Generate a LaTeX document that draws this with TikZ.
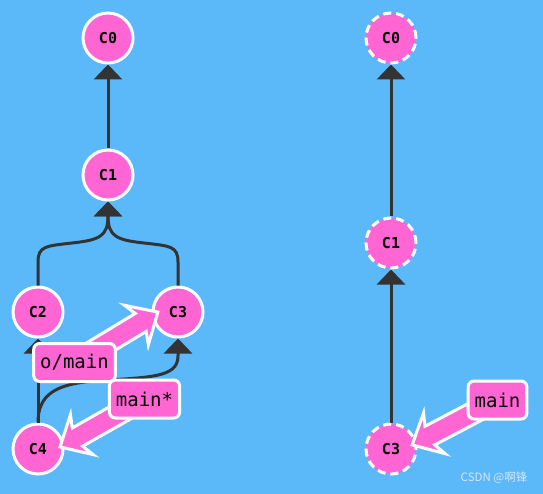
\documentclass[tikz,border=0pt]{standalone}
\usepackage{fontspec}
\setmonofont{DejaVu Sans Mono}
\newfontfamily\cjkfont{Noto Sans CJK SC}
\usetikzlibrary{arrows.meta,calc}
\pgfdeclarelayer{front}
\pgfsetlayers{main,front}
\definecolor{bg}{HTML}{5CB9F9}
\definecolor{pinkc}{HTML}{FF66D3}
\definecolor{darkc}{HTML}{333333}
\definecolor{wm}{HTML}{D4E6F5}
\tikzset{
 commit/.style={circle, fill=pinkc, draw=white, line width=3pt, minimum size=50pt, inner sep=0pt, font=\ttfamily\bfseries\fontsize{15}{15}\selectfont, text=black},
 ghost/.style={commit, dash pattern=on 8pt off 5pt},
 conn/.style={draw=darkc, line width=3pt, -{Triangle[width=28pt,length=15pt]}},
 branch/.style={rounded corners=6pt, fill=pinkc, draw=white, line width=3pt, minimum height=38pt, inner xsep=6.5pt, inner ysep=0pt, font=\ttfamily\fontsize{19}{19}\selectfont, text=black},
 pics/fatarrow/.style={code={\filldraw[fill=pinkc, draw=white, line width=3pt, line join=miter] (0,-10.5) -- (#1-20,-10.5) -- (#1-25,-23) -- (#1,0) -- (#1-25,23) -- (#1-20,10.5) -- (0,10.5) -- cycle;}}
}
\begin{document}
\begin{tikzpicture}[x=1pt,y=-1pt]
\fill[bg] (0,0) rectangle (543,494);
\useasboundingbox (0,0) rectangle (543,494);
% left graph
\node[commit] (C0) at (108,38) {C0};
\node[commit] (C1) at (108,175) {C1};
\node[commit] (C2) at (38,312) {C2};
\node[commit] (C3) at (178,312) {C3};
\node[commit] (C4) at (38,449) {C4};
% right graph
\node[ghost] (R0) at (391,38) {C0};
\node[ghost] (R1) at (391,243) {C1};
\node[ghost] (R3) at (391,449) {C3};
% connectors
\draw[conn] (C1) -- (C0);
\draw[conn] (C2.north) -- (38,262) .. controls (38,246) and (46,246) .. (72,243) .. controls (100,240) and (108,236) .. (C1.south);
\draw[conn] (C3.north) -- (178,262) .. controls (178,246) and (170,246) .. (144,243) .. controls (116,240) and (108,236) .. (C1.south);
\draw[conn] (C4) -- (C2);
\draw[conn] (C4.north) .. controls (38,395) and (55,384) .. (95,381) .. controls (150,377) and (178,378) .. (178,356) -- (C3.south);
\draw[conn] (R1) -- (R0);
\draw[conn] (R3) -- (R1);
% branch labels
\begin{pgfonlayer}{front}
\node[branch] (omain) at (74.5,362.5) {o/main};
\node[branch] (mainstar) at (144.5,399) {main*};
\node[branch] (rmain) at (497.5,400) {main};
\end{pgfonlayer}
% pointer tips
\coordinate (tA) at ($(C3)+(-20,0)$);
\coordinate (tB) at ($(C4)+(22,-2)$);
\coordinate (tC) at ($(R3)+(21,-4)$);
\path let \p1=(omain.center), \p2=(tA), \n1={atan2(\y2-\y1,\x2-\x1)}, \n2={veclen(\x2-\x1,\y2-\y1)} in pic[rotate=\n1] at (\p1) {fatarrow=\n2};
\path let \p1=(mainstar.center), \p2=(tB), \n1={atan2(\y2-\y1,\x2-\x1)}, \n2={veclen(\x2-\x1,\y2-\y1)} in pic[rotate=\n1] at (\p1) {fatarrow=\n2};
\path let \p1=(rmain.center), \p2=(tC), \n1={atan2(\y2-\y1,\x2-\x1)}, \n2={veclen(\x2-\x1,\y2-\y1)} in pic[rotate=\n1] at (\p1) {fatarrow=\n2};
% watermark
\node[text=wm, font=\cjkfont\fontsize{11.5}{11.5}\selectfont] (wmk) at (494,478) {CSDN @啊锋};
\end{tikzpicture}
\end{document}
